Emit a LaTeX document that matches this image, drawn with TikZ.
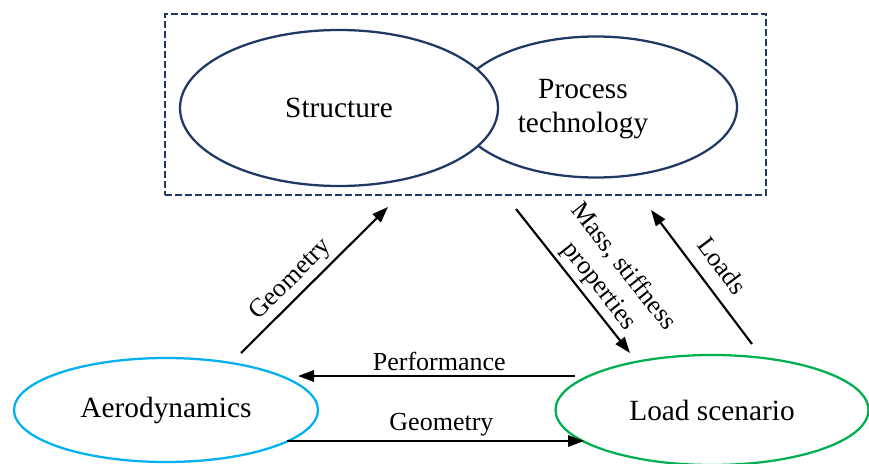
\documentclass[tikz,border=0pt]{standalone}
\usepackage{fontspec}
\setmainfont{Liberation Serif}
\usetikzlibrary{shapes.geometric,arrows.meta}
\definecolor{navy}{RGB}{31,56,100}
\definecolor{aeroblue}{RGB}{0,176,240}
\definecolor{loadgreen}{RGB}{0,176,80}
\begin{document}
\begin{tikzpicture}[x=0.75pt,y=0.75pt,
  bubble/.style={ellipse, draw, line width=1.7pt, inner sep=0pt, font=\fontsize{22}{26}\selectfont},
  bigtext/.style={font=\fontsize{22}{25.5}\selectfont, align=center, inner sep=0pt},
  flow/.style={line width=1.6pt, -{Triangle[length=12pt,width=8.5pt]}},
  flowback/.style={line width=1.6pt, {Triangle[length=12pt,width=8.5pt]}-},
  lbl/.style={font=\fontsize{19.5}{23}\selectfont, inner sep=3pt, text=black}]
\useasboundingbox (0,0) rectangle (869,-464);
% group box
\node[draw=navy, line width=1.6pt, dash pattern=on 5pt off 2.5pt,
      minimum width=450.75pt, minimum height=135.75pt, inner sep=0pt] (group) at (465.5,-104.5) {};
% top ellipses
\node[bubble, draw=navy, minimum width=211.5pt, minimum height=105.75pt] (proc) at (596,-107) {};
\node[bigtext] (proctext) at (583,-109) {Process\\technology};
\node[bubble, draw=navy, fill=white, minimum width=238.5pt, minimum height=117pt] (struct) at (339,-108) {Structure};
% bottom ellipses
\node[bubble, draw=aeroblue, minimum width=228pt, minimum height=78pt] (aero) at (166,-410) {Aerodynamics};
\node[bubble, draw=loadgreen, minimum width=234.75pt, minimum height=82.5pt] (load) at (712,-410) {Load scenario};
% connector end points
\coordinate (g1) at (241,-353);
\coordinate (g2) at (388,-207);
\coordinate (m1) at (516,-209);
\coordinate (m2) at (630,-353);
\coordinate (l1) at (651,-210);
\coordinate (l2) at (752,-344);
\coordinate (p1) at (575,-376);
\coordinate (p2) at (298,-376);
\coordinate (q1) at (287,-441);
\coordinate (q2) at (584,-441);
% connectors
\draw[flow] (g1) -- node[lbl, sloped, above, pos=0.42] {Geometry} (g2);
\draw[flow] (m1) -- node[lbl, sloped, above, pos=0.61, align=center] {Mass, stiffness\\properties} (m2);
\draw[flowback] (l1) -- node[lbl, sloped, above=7pt, pos=0.52] {Loads} (l2);
\draw[flow] (p1) -- node[lbl, above, pos=0.49] {Performance} (p2);
\draw[flow] (q1) -- node[lbl, above, pos=0.52] {Geometry} (q2);
\end{tikzpicture}
\end{document}
